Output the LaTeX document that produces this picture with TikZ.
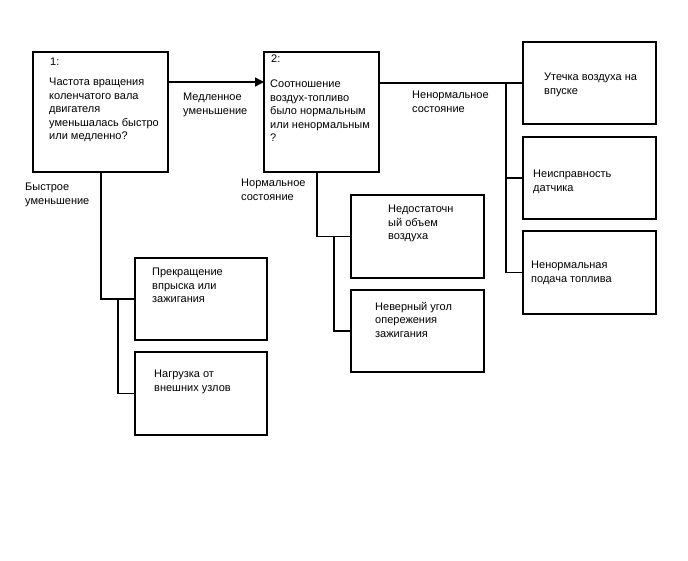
\documentclass[tikz,border=0pt]{standalone}
\usepackage{fontspec}
\setmainfont{Liberation Sans}
\usetikzlibrary{calc, arrows.meta, positioning}

\tikzset{
  box/.style={draw, line width=1.8pt, outer sep=0pt, inner sep=0pt},
  txt/.style={anchor=north west, inner sep=0pt, align=left,
              font=\fontsize{11}{13.5}\selectfont},
  link/.style={line width=1.5pt}
}

\begin{document}
\begin{tikzpicture}[x=1pt, y=-1pt, >={Triangle[length=9pt, width=9pt]}]

    \useasboundingbox (0,0) rectangle (688,560);

    % =================================================================
    % 1. ПРЯМОУГОЛЬНИКИ
    % =================================================================
    \node[box, minimum width=135, minimum height=120] (b1) at (100.5,112) {};
    \node[box, minimum width=115, minimum height=120] (b2) at (321.5,112) {};

    \node[box, minimum width=133, minimum height=82] (bA) at (589.5,83) {};
    \node[box, minimum width=133, minimum height=82] (bB) at (589.5,178) {};
    \node[box, minimum width=133, minimum height=83] (bC) at (589.5,272.5) {};

    \node[box, minimum width=133, minimum height=83] (bD) at (417.5,236.5) {};
    \node[box, minimum width=133, minimum height=82] (bE) at (417.5,331) {};

    \node[box, minimum width=132, minimum height=82] (bF) at (201,299) {};
    \node[box, minimum width=132, minimum height=83] (bG) at (201,393.5) {};

    % =================================================================
    % 2. ТЕКСТ В ПРЯМОУГОЛЬНИКАХ
    % =================================================================
    \node[txt] (n1) at (50,58) {1:};
    \node[txt] (t1) at (49,78) {Частота вращения\\коленчатого вала\\двигателя\\уменьшалась быстро\\или медленно?};
    \node[txt] (n2) at (271,55) {2:};
    \node[txt] (t2) at (270,80) {Соотношение\\воздух-топливо\\было нормальным\\или ненормальным\\?};

    \node[txt] (tA) at (544,73) {Утечка воздуха на\\впуске};
    \node[txt] (tB) at (533,170) {Неисправность\\датчика};
    \node[txt] (tC) at (531,261) {Ненормальная\\подача топлива};

    \node[txt] (tD) at (388,205) {Недостаточн\\ый объем\\воздуха};
    \node[txt] (tE) at (375,302) {Неверный угол\\опережения\\зажигания};

    \node[txt] (tF) at (152,268) {Прекращение\\впрыска или\\зажигания};
    \node[txt] (tG) at (154,370) {Нагрузка от\\внешних узлов};

    % =================================================================
    % 3. ПОДПИСИ ВЕТВЕЙ
    % =================================================================
    \node[txt] (slow) at (183,93) {Медленное\\уменьшение};
    \node[txt] (fast) at (25,183) {Быстрое\\уменьшение};
    \node[txt] (abn) at (412,91) {Ненормальное\\состояние};
    \node[txt] (nrm) at (241,179) {Нормальное\\состояние};

    % =================================================================
    % 4. ТОЧКИ ВЕТВЛЕНИЯ
    % =================================================================
    \coordinate (p12) at (168,82);
    \coordinate (jR) at (506,83);
    \coordinate (jN) at (317,236);
    \coordinate (jN2) at (334,236);
    \coordinate (jL) at (101,299);
    \coordinate (jL2) at (118,299);

    % =================================================================
    % 5. СОЕДИНИТЕЛЬНЫЕ ЛИНИИ
    % =================================================================
    % стрелка от 1 к 2
    \draw[link, ->] (p12) -- (p12 -| b2.west);

    % правая ветвь
    \draw[link] (b2.east |- bA.west) -- (bA.west);
    \draw[link] (jR) |- (bC.west);
    \draw[link] (jR |- bB.west) -- (bB.west);

    % средняя ветвь
    \draw[link] (b2.south -| jN) |- (bD.west);
    \draw[link] (jN2) |- (bE.west);

    % левая ветвь
    \draw[link] (b1.south -| jL) |- (bF.west);
    \draw[link] (jL2) |- (bG.west);

\end{tikzpicture}
\end{document}
